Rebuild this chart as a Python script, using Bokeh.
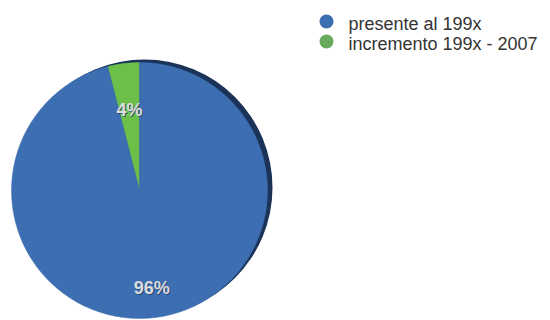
import numpy as np
from bokeh.plotting import figure
from bokeh.models import Range1d
from bokeh.core.properties import value
from bokeh.embed import file_html
from bokeh.resources import INLINE

# data
categories = ["presente al 199x", "incremento 199x - 2007"]
shares = [96, 4]
labels = ["96%", "4%"]
colors = ["#3d6eb2", "#6cc04a"]
legend_colors = ["#3b6fb0", "#69aa5c"]

W, H = 550, 320
p = figure(width=W, height=H, output_backend="svg", toolbar_location=None,
           x_range=Range1d(0, W), y_range=Range1d(0, H), min_border=0)
p.axis.visible = False
p.grid.visible = False
p.outline_line_color = None
p.background_fill_color = "white"

cx, cy, r = 139, H - 190, 128

vals = np.array(shares, dtype=float)
frac = vals / vals.sum()
# the small slice starts at 12 o'clock going anticlockwise; the big one follows
order = [1, 0]
start = np.pi / 2
starts, ends = {}, {}
for i in order:
    starts[i] = start
    ends[i] = start + frac[i] * 2 * np.pi
    start = ends[i]

# shadow
p.circle(x=cx + 5, y=cy + 3, radius=r, fill_color="#1b3358", line_color=None)

for i in order:
    p.wedge(x=cx, y=cy, radius=r, start_angle=starts[i], end_angle=ends[i],
            direction="anticlock", fill_color=colors[i], line_color=colors[i],
            line_width=0.5)

label_r = {0: 0.77, 1: 0.63}
for i in order:
    mid = (starts[i] + ends[i]) / 2
    lx = cx + label_r[i] * r * np.cos(mid)
    ly = cy + label_r[i] * r * np.sin(mid)
    p.text(x=[lx + 1], y=[ly - 1], text=[labels[i]], text_align="center",
           text_baseline="middle", text_font=value("Liberation Sans"),
           text_font_size="18px", text_font_style="bold", text_color="#26406a",
           text_alpha=0.8)
    p.text(x=[lx], y=[ly], text=[labels[i]], text_align="center",
           text_baseline="middle", text_font=value("Liberation Sans"),
           text_font_size="18px", text_font_style="bold", text_color="#dcdcdc")

# legend
ly0 = [H - 21, H - 41]
p.scatter(x=[326, 326], y=ly0, size=14, marker="circle",
          fill_color=legend_colors, line_color=None)
p.text(x=[348, 348], y=[y - 2 for y in ly0], text=categories,
       text_baseline="middle", text_font=value("Liberation Sans"),
       text_font_size="18px", text_color="#333333")

open("out.html", "w").write(file_html(p, INLINE))
